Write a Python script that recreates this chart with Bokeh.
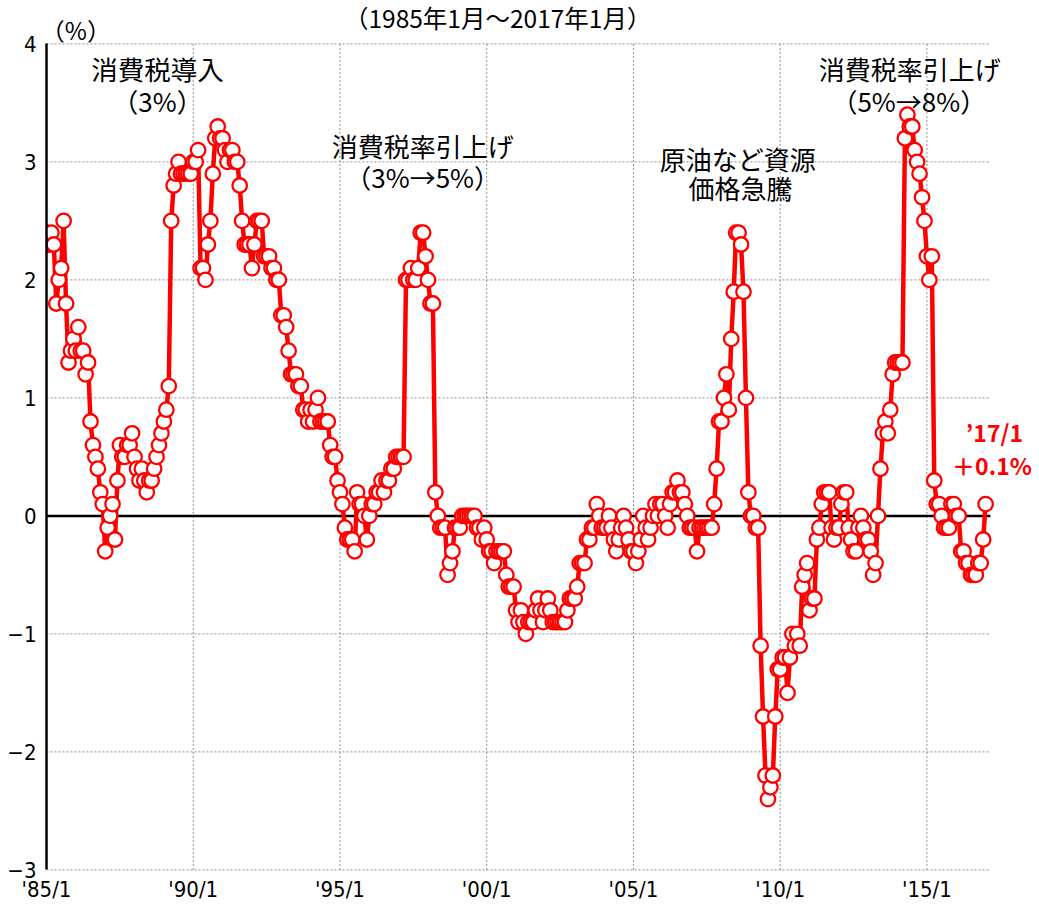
from bokeh.plotting import figure
from bokeh.models import Range1d, FixedTicker, Label
from bokeh.embed import file_html
from bokeh.resources import INLINE

# Monthly year-on-year change (%), 1985/1 - 2017/1
cpi_1985 = [2.4, 2.3, 2.4, 2.3, 1.8, 2.0, 2.1, 2.5, 1.8, 1.3, 1.4, 1.5]
cpi_1986 = [1.4, 1.6, 1.4, 1.4, 1.2, 1.3, 0.8, 0.6, 0.5, 0.4, 0.2, 0.1]
cpi_1987 = [-0.3, -0.1, 0.0, 0.1, -0.2, 0.3, 0.6, 0.5, 0.5, 0.6, 0.6, 0.7]
cpi_1988 = [0.5, 0.4, 0.3, 0.4, 0.3, 0.2, 0.3, 0.3, 0.4, 0.5, 0.6, 0.7]
cpi_1989 = [0.8, 0.9, 1.1, 2.5, 2.8, 2.9, 3.0, 2.9, 2.9, 2.9, 2.9, 2.9]
cpi_1990 = [3.0, 3.0, 3.1, 2.1, 2.1, 2.0, 2.3, 2.5, 2.9, 3.2, 3.3, 3.2]
cpi_1991 = [3.2, 3.1, 3.0, 3.1, 3.1, 3.0, 3.0, 2.8, 2.5, 2.3, 2.3, 2.3]
cpi_1992 = [2.1, 2.3, 2.5, 2.5, 2.5, 2.2, 2.2, 2.2, 2.1, 2.1, 2.0, 2.0]
cpi_1993 = [1.7, 1.7, 1.6, 1.4, 1.2, 1.2, 1.2, 1.1, 1.1, 0.9, 0.9, 0.8]
cpi_1994 = [0.9, 0.8, 0.9, 1.0, 0.8, 0.8, 0.8, 0.8, 0.6, 0.5, 0.5, 0.3]
cpi_1995 = [0.2, 0.1, -0.1, -0.2, -0.2, -0.2, -0.3, 0.2, 0.1, 0.1, 0.0, -0.2]
cpi_1996 = [0.0, 0.1, 0.1, 0.2, 0.2, 0.3, 0.2, 0.3, 0.3, 0.4, 0.4, 0.5]
cpi_1997 = [0.5, 0.5, 0.5, 2.0, 2.0, 2.1, 2.0, 2.0, 2.1, 2.4, 2.4, 2.2]
cpi_1998 = [2.0, 1.8, 1.8, 0.2, 0.0, -0.1, -0.1, -0.1, -0.5, -0.4, -0.3, -0.1]
cpi_1999 = [-0.1, -0.1, 0.0, 0.0, 0.0, 0.0, 0.0, 0.0, -0.1, -0.1, -0.2, -0.1]
cpi_2000 = [-0.2, -0.3, -0.3, -0.4, -0.3, -0.3, -0.3, -0.3, -0.5, -0.6, -0.6, -0.6]
cpi_2001 = [-0.8, -0.9, -0.8, -0.9, -1.0, -0.9, -0.9, -0.9, -0.8, -0.7, -0.8, -0.9]
cpi_2002 = [-0.8, -0.7, -0.8, -0.9, -0.9, -0.9, -0.9, -0.9, -0.9, -0.8, -0.7, -0.7]
cpi_2003 = [-0.7, -0.6, -0.4, -0.4, -0.4, -0.2, -0.2, -0.1, -0.1, 0.1, 0.0, -0.1]
cpi_2004 = [-0.1, -0.1, 0.0, -0.1, -0.2, -0.3, -0.2, -0.1, 0.0, -0.1, -0.2, -0.3]
cpi_2005 = [-0.3, -0.4, -0.3, -0.2, 0.0, -0.1, -0.2, -0.1, 0.0, 0.1, 0.0, 0.1]
cpi_2006 = [0.1, 0.0, -0.1, 0.1, 0.2, 0.2, 0.3, 0.2, 0.2, 0.1, 0.0, -0.1]
cpi_2007 = [-0.1, -0.1, -0.3, -0.1, -0.1, -0.1, -0.1, -0.1, -0.1, 0.1, 0.4, 0.8]
cpi_2008 = [0.8, 1.0, 1.2, 0.9, 1.5, 1.9, 2.4, 2.4, 2.3, 1.9, 1.0, 0.2]
cpi_2009 = [0.0, 0.0, -0.1, -0.1, -1.1, -1.7, -2.2, -2.4, -2.3, -2.2, -1.7, -1.3]
cpi_2010 = [-1.3, -1.2, -1.2, -1.5, -1.2, -1.0, -1.1, -1.0, -1.1, -0.6, -0.5, -0.4]
cpi_2011 = [-0.8, -0.7, -0.7, -0.2, -0.1, 0.1, 0.2, 0.2, 0.2, -0.1, -0.2, -0.1]
cpi_2012 = [-0.1, 0.1, 0.2, 0.2, -0.1, -0.2, -0.3, -0.3, -0.1, 0.0, -0.1, -0.2]
cpi_2013 = [-0.2, -0.3, -0.5, -0.4, 0.0, 0.4, 0.7, 0.8, 0.7, 0.9, 1.2, 1.3]
cpi_2014 = [1.3, 1.3, 1.3, 3.2, 3.4, 3.3, 3.3, 3.1, 3.0, 2.9, 2.7, 2.5]
cpi_2015 = [2.2, 2.0, 2.2, 0.3, 0.1, 0.1, 0.0, -0.1, -0.1, -0.1, 0.1, 0.1]
cpi_2016 = [0.0, 0.0, -0.3, -0.3, -0.4, -0.4, -0.5, -0.5, -0.5, -0.4, -0.4, -0.2]
cpi_2017 = [0.1]

tick_labels = ["'85/1", "'90/1", "'95/1", "'00/1", "'05/1", "'10/1", "'15/1"]
y_ticks = [-3, -2, -1, 0, 1, 2, 3, 4]
y_tick_labels = ["\u22123", "\u22122", "\u22121", "0", "1", "2", "3", "4"]

values = (cpi_1985 + cpi_1986 + cpi_1987 + cpi_1988 + cpi_1989 + cpi_1990 + cpi_1991
          + cpi_1992 + cpi_1993 + cpi_1994 + cpi_1995 + cpi_1996 + cpi_1997 + cpi_1998
          + cpi_1999 + cpi_2000 + cpi_2001 + cpi_2002 + cpi_2003 + cpi_2004 + cpi_2005
          + cpi_2006 + cpi_2007 + cpi_2008 + cpi_2009 + cpi_2010 + cpi_2011 + cpi_2012
          + cpi_2013 + cpi_2014 + cpi_2015 + cpi_2016 + cpi_2017)
months = list(range(len(values)))

JP = "'Noto Sans CJK JP', sans-serif"
NUM = "'Liberation Sans Narrow', 'DejaVu Sans Condensed', sans-serif"

# geometry: the frame reaches the canvas top and right edges so that the
# outer texts are drawn inside it (annotations are clipped to the frame)
n_cat = 386          # categories spanned by the drawn plot area
plot_px = 944.0      # drawn plot-area width in px
frame_w = 989
frame_h = 871
ppu = 118.0          # px per 1 %
zero_px = 515.4      # zero line distance from the frame top
x_end = n_cat * frame_w / plot_px
y_top = zero_px / ppu
y_bot = -(frame_h - zero_px) / ppu

p = figure(frame_width=frame_w, frame_height=frame_h,
           x_range=Range1d(0, x_end), y_range=Range1d(y_bot, y_top),
           output_backend="svg", toolbar_location=None,
           min_border_left=46, min_border_right=0, min_border_top=0, min_border_bottom=34)
p.outline_line_color = None
p.background_fill_color = "white"
p.xgrid.visible = False
p.ygrid.visible = False

x_ticks = [i * 60 for i in range(len(tick_labels))]
p.xaxis.ticker = FixedTicker(ticks=x_ticks)
p.xaxis.major_label_overrides = {t: l for t, l in zip(x_ticks, tick_labels)}
p.yaxis.ticker = FixedTicker(ticks=y_ticks)
p.yaxis.major_label_overrides = {t: l for t, l in zip(y_ticks, y_tick_labels)}
p.yaxis.bounds = (y_ticks[0], y_ticks[-1])

for ax in (p.xaxis, p.yaxis):
    ax.major_tick_line_color = None
    ax.minor_tick_line_color = None
    ax.major_tick_out = 0
    ax.major_tick_in = 0
    ax.minor_tick_out = 0
    ax.minor_tick_in = 0
    ax.major_label_text_font = NUM
    ax.major_label_text_color = "black"
p.xaxis.axis_line_color = None
p.xaxis.major_label_text_font_size = "22px"
p.xaxis.major_label_standoff = 5
p.yaxis.axis_line_color = "black"
p.yaxis.axis_line_width = 2.5
p.yaxis.major_label_text_font_size = "22px"
p.yaxis.major_label_standoff = 10

# dotted grid inside the plot area
grid_y = [t for t in y_ticks if t != 0]
p.segment(x0=[0] * len(grid_y), y0=grid_y, x1=[n_cat] * len(grid_y), y1=grid_y,
          line_color="#8c8c8c", line_dash="2 2", line_width=1)
grid_x = [t for t in x_ticks if t != 0]
p.segment(x0=grid_x, y0=[y_ticks[0]] * len(grid_x), x1=grid_x, y1=[y_ticks[-1]] * len(grid_x),
          line_color="#8c8c8c", line_dash="2 2", line_width=1)
# zero line
p.segment(x0=[0], y0=[0], x1=[n_cat], y1=[0], line_color="black", line_width=2.5)

p.line(months, values, line_color="red", line_width=4.5)
p.scatter(months, values, size=14.5, fill_color="white", line_color="red", line_width=2.3)

def add_text(x, y, s, size, color="black", bold=False, font=JP):
    p.add_layout(Label(x=x, y=y, text=s, text_font=font, text_font_size=size,
                       text_color=color, text_align="center", text_baseline="middle",
                       text_font_style="bold" if bold else "normal"))

add_text(184.5, 4.22, "（1985年1月～2017年1月）", "24.5px")
add_text(12.0, 4.12, "（%）", "24px")
add_text(45.4, 3.79, "消費税導入", "26.5px")
add_text(45.4, 3.52, "（3%）", "26px")
add_text(153.8, 3.14, "消費税率引上げ", "26px")
add_text(153.8, 2.88, "（3%→5%）", "26px")
add_text(282.6, 3.03, "原油など資源", "26px")
add_text(283.8, 2.78, "価格急騰", "26px")
add_text(353.0, 3.79, "消費税率引上げ", "26px")
add_text(352.6, 3.52, "（5%→8%）", "26px")
add_text(387.6, 0.71, "’17/1", "23px", color="red", bold=True)
add_text(386.6, 0.43, "＋0.1%", "23px", color="red", bold=True)

open("out.html", "w").write(file_html(p, INLINE))
